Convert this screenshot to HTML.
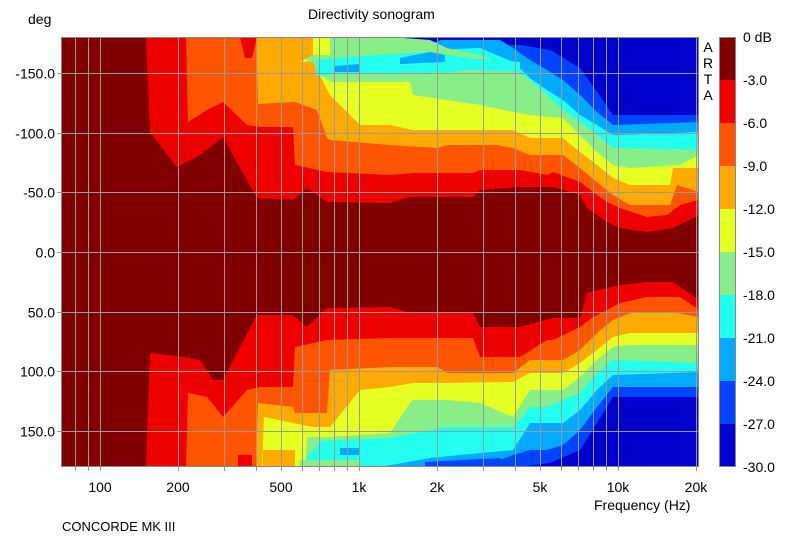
<!DOCTYPE html>
<html><head><meta charset="utf-8"><style>
body{margin:0;background:#fff;}
svg text{font-family:"Liberation Sans",sans-serif;font-size:14px;fill:#000;}
</style></head><body>
<svg id="s" width="791" height="541" xmlns="http://www.w3.org/2000/svg">
<defs><clipPath id="c"><rect x="61" y="37" width="638" height="430"/></clipPath></defs>
<rect x="61" y="37" width="638" height="430" fill="#0000cc"/>
<g id="bands" clip-path="url(#c)"></g>
<g id="grid" stroke="#999" stroke-width="1"></g>
<rect x="61.5" y="37.5" width="637" height="429" fill="none" stroke="#888"/>
<text x="308" y="19">Directivity sonogram</text>
<text x="28" y="24">deg</text>
<g text-anchor="end" id="yl"></g>
<g text-anchor="middle" id="xl"></g>
<text x="594" y="510">Frequency (Hz)</text>
<text x="62" y="531" style="font-size:13px">CONCORDE MK III</text>
<g text-anchor="middle" style="font-size:14px"><text x="708" y="52">A</text><text x="708" y="68">R</text><text x="708" y="84">T</text><text x="708" y="100">A</text></g>
<g id="cb"></g>
</svg>
<script>
var NS="http://www.w3.org/2000/svg";
function el(p,t,a,txt){var e=document.createElementNS(NS,t);for(var k in a)e.setAttribute(k,a[k]);if(txt!=null)e.textContent=txt;p.appendChild(e);return e;}
var cols=["#800000","#ee0000","#ff5500","#ffaa00","#e6ff22","#88ee88","#22ffee","#00aaff","#0044ff","#0000cc"];
var L={
1:[[61,37,467],[146,37,467],[150,132,353],[177,167,356],[200,155,360],[213,145,380],[223,137,380],[240,168,347],[257,198,315],[293,200,315],[307,188,327],[327,202,308],[390,203,307],[410,197,313],[473,197,313],[480,190,327],[520,187,327],[553,187,318],[580,195,318],[587,208,293],[607,222,288],[620,228,285],[647,232,282],[673,228,282],[699,215,300]],
2:[[61,37,467],[186,37,467],[188,122,393],[207,110,397],[223,102,417],[247,125,390],[260,127,387],[293,127,387],[295,165,347],[327,172,340],[390,175,338],[413,173,338],[473,173,338],[480,170,357],[520,170,357],[547,175,340],[553,172,340],[580,182,327],[593,192,317],[607,202,310],[620,208,303],[647,217,297],[667,215,297],[680,205,297],[699,200,310]],
3:[[61,37,467],[256,37,467],[258,104,403],[293,102,407],[295,102,413],[317,110,413],[327,138,413],[330,140,370],[390,145,367],[437,148,367],[447,145,373],[497,145,373],[513,148,373],[530,155,360],[563,155,360],[580,168,350],[597,182,333],[613,195,320],[630,205,313],[670,205,313],[677,185,313],[699,192,317]],
4:[[61,37,467],[262,37,467],[264,62,417],[293,62,423],[313,62,427],[330,95,427],[360,125,390],[390,125,387],[413,130,383],[447,130,383],[513,130,382],[530,138,373],[563,138,373],[580,152,363],[597,165,350],[613,178,337],[630,185,333],[670,185,333],[673,168,333],[699,168,333]],
5:[[61,37,467],[305,37,467],[307,62,437],[327,80,437],[390,80,433],[410,80,403],[413,95,400],[447,100,400],[480,105,403],[513,112,417],[530,115,390],[563,118,390],[580,135,377],[597,152,360],[613,165,347],[630,168,345],[680,165,345],[699,155,345]],
6:[[61,37,467],[293,37,467],[300,37,467],[320,37,441],[390,37,438],[430,40,430],[447,48,427],[480,55,427],[513,68,427],[530,80,407],[547,95,407],[563,110,400],[580,122,393],[597,135,373],[613,148,360],[699,150,363]],
7:[[61,37,467],[290,37,467],[300,40,467],[330,55,467],[380,52,467],[430,50,458],[480,48,453],[513,62,450],[530,78,423],[547,90,423],[563,100,423],[580,115,410],[597,125,390],[613,135,375],[699,132,372]],
8:[[61,37,467],[290,37,467],[300,45,467],[330,58,467],[420,50,467],[440,40,462],[500,40,460],[513,48,455],[530,60,450],[547,70,450],[563,80,445],[580,95,430],[597,112,407],[613,125,387],[699,122,387]],
9:[[61,37,467],[290,37,467],[300,45,467],[330,60,467],[420,52,467],[505,45,467],[520,45,467],[550,50,463],[580,68,450],[597,92,423],[613,115,397],[699,115,397]]
};
var g=document.getElementById("bands");
for(var k=9;k>=1;k--){var a=L[k],pts=[];
 for(var i=0;i<a.length;i++)pts.push(a[i][0]+","+a[i][1]);
 pts.push("710,"+a[a.length-1][1]);pts.push("710,"+a[a.length-1][2]);
 for(var i=a.length-1;i>=0;i--)pts.push(a[i][0]+","+a[i][2]);
 el(g,"polygon",{points:pts.join(" "),fill:cols[k-1]});}
el(g,"polygon",{points:"240,37 257,37 252,58 245,58",fill:"#ee0000"});
el(g,"polygon",{points:"262,37 313,37 313,55 300,62 262,64",fill:"#ffaa00"});
el(g,"polygon",{points:"313,37 330,37 330,55 313,55",fill:"#e6ff22"});
el(g,"polygon",{points:"316,60 360,56 430,52 470,58 520,62 520,72 470,70 430,74 360,74 316,76",fill:"#22ffee"});
el(g,"polygon",{points:"330,74 470,72 480,82 330,82",fill:"#88ee88"});
el(g,"polygon",{points:"335,66 360,64 360,72 335,72",fill:"#00aaff"});
el(g,"polygon",{points:"400,58 430,52 445,55 445,62 400,64",fill:"#00aaff"});
el(g,"polygon",{points:"263,450 295,450 295,467 263,467",fill:"#ffaa00"});
el(g,"polygon",{points:"300,460 360,460 360,467 300,467",fill:"#88ee88"});
el(g,"polygon",{points:"238,455 252,455 252,467 238,467",fill:"#ee0000"});
el(g,"polygon",{points:"340,448 360,448 360,455 340,455",fill:"#00aaff"});
el(g,"polygon",{points:"425,462 500,458 510,467 425,467",fill:"#0044ff"});
var gr=document.getElementById("grid");
function fx(f){return 359+259*Math.log10(f/1000);}
var fs=[80,90,100,200,300,400,500,600,700,800,900,1000,2000,3000,4000,5000,6000,7000,8000,9000,10000,20000];
fs.forEach(function(f){var x=Math.round(fx(f))+0.5;el(gr,"line",{x1:x,y1:37,x2:x,y2:471});});
var yl=document.getElementById("yl");
[-150,-100,-50,0,50,100,150].forEach(function(d){var y=Math.round(252+d*1.194)+0.5;el(gr,"line",{x1:57,y1:y,x2:699,y2:y});el(yl,"text",{x:55,y:y+5},d.toFixed(1));});
var xl=document.getElementById("xl");
[[100,"100"],[200,"200"],[500,"500"],[1000,"1k"],[2000,"2k"],[5000,"5k"],[10000,"10k"],[20000,"20k"]].forEach(function(p){el(xl,"text",{x:fx(p[0]),y:492},p[1]);});
var cb=document.getElementById("cb");
var lab=["0 dB","-3.0","-6.0","-9.0","-12.0","-15.0","-18.0","-21.0","-24.0","-27.0","-30.0"];
for(var i=0;i<10;i++)el(cb,"rect",{x:719,y:37+i*43,width:17,height:43,fill:cols[i]});
el(cb,"rect",{x:719.5,y:37.5,width:16,height:429,fill:"none",stroke:"#888"});
for(var i=0;i<11;i++)el(cb,"text",{x:743,y:(i==0?42:37+i*43+5)},lab[i]);
</script>
</body></html>
